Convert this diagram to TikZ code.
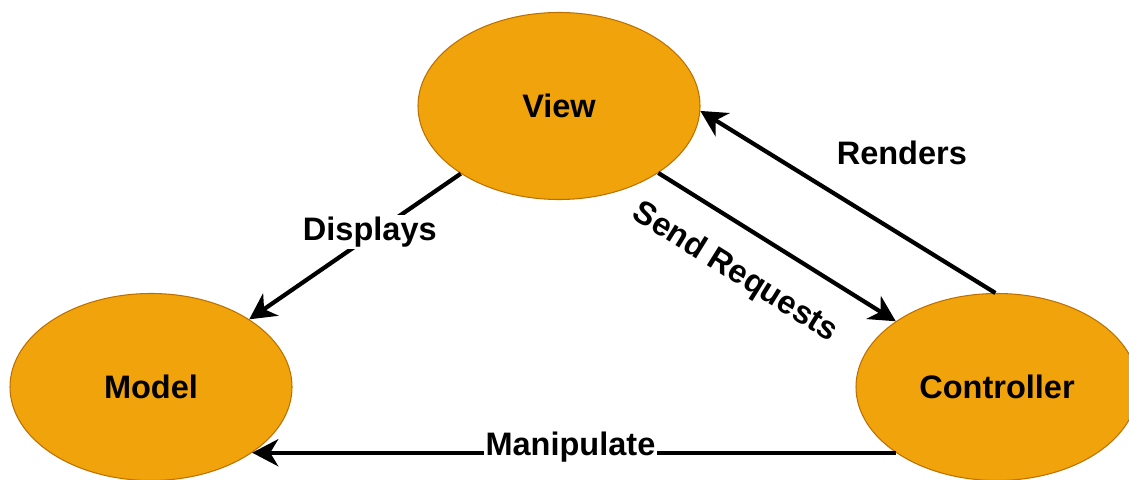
\documentclass[tikz,border=0pt]{standalone}
\usepackage{fontspec}
\setmainfont{Liberation Sans}
\usetikzlibrary{shapes.geometric, arrows.meta, positioning}
\definecolor{mvcfill}{HTML}{F0A30A}
\definecolor{mvcline}{HTML}{BD7000}
\tikzstyle{part} = [ellipse, minimum width=5.64cm, minimum height=3.74cm, inner sep=0pt, draw=mvcline, line width=0.6pt, fill=mvcfill, font=\fontsize{18.5}{22}\selectfont\bfseries]
\tikzstyle{arrow} = [line width=2.4pt, -{Stealth[length=0.52cm, width=0.54cm, inset=0.16cm]}]
\tikzstyle{edgetext} = [font=\fontsize{18.5}{22}\selectfont\bfseries, inner sep=1pt]

\begin{document}
\begin{tikzpicture}
\useasboundingbox (0,0) rectangle (22.58,9.58);

% Nodes
\node (view) [part] at (11.18,7.46) {View};
\node (model) [part] at (3.02,1.84) {Model};
\node (controller) [part] at (19.94,1.84) {Controller};

% Arrows
\draw [arrow] (view) -- node[edgetext, fill=white, pos=0.43, yshift=0.08cm] {Displays} (model);
\draw [arrow] (view.-34) -- node[edgetext, sloped, below=0.5cm, pos=0.42] {Send Requests} (controller.147);
\draw [arrow] (controller.91) -- node[edgetext, xshift=1.08cm, yshift=0.98cm] {Renders} (view.-2);
\draw [arrow] (controller.213) -- node[edgetext, fill=white, pos=0.49, xshift=-0.2cm, yshift=0.11cm] {Manipulate} (model.-33);

\end{tikzpicture}
\end{document}
